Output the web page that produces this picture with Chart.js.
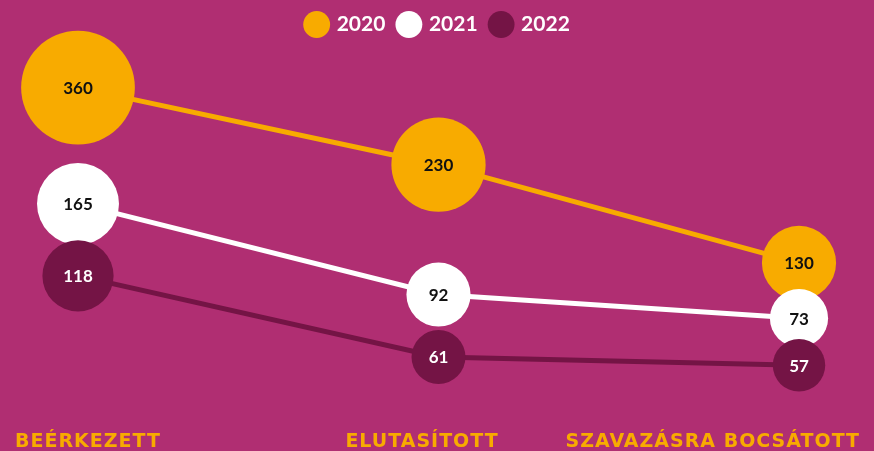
<!DOCTYPE html>
<html>
<head>
<meta charset="utf-8">
<script src="https://cdn.jsdelivr.net/npm/chart.js@4.4.1/dist/chart.umd.min.js"></script>
<style>
  html, body { margin: 0; padding: 0; background: #b02e72; }
  #wrap { width: 874px; height: 451px; position: relative; }
</style>
</head>
<body>
<div id="wrap"><canvas id="grafico"></canvas></div>
<script>
// --- adatok ---
const kategoriak = ['BEÉRKEZETT', 'ELUTASÍTOTT', 'SZAVAZÁSRA BOCSÁTOTT'];
const evek = ['2020', '2021', '2022'];
const ertekek2020 = [360, 230, 130];
const ertekek2021 = [165, 92, 73];
const ertekek2022 = [118, 61, 57];

const NARANCS = '#f8ab00';
const FEHER = '#ffffff';
const LILA = '#741445';

// buborék mérete az értékből
function buborekSugar(ctx) {
    const v = ctx.raw;
    return 4.8 * Math.pow(v, 0.42);
}

// számok a buborékok közepén
const buborekFelirat = {
    id: 'buborekFelirat',
    afterDatasetsDraw(chart) {
        const ctx = chart.ctx;
        ctx.save();
        ctx.font = 'bold 17px Lato';
        ctx.textAlign = 'center';
        ctx.textBaseline = 'middle';
        chart.data.datasets.forEach((ds, i) => {
            const meta = chart.getDatasetMeta(i);
            ctx.fillStyle = ds.szamSzin;
            meta.data.forEach((pont, j) => {
                ctx.fillText(ds.data[j], pont.x, pont.y + 1);
            });
        });
        ctx.restore();
    }
};

// kategória feliratok alul
const tengelyFelirat = {
    id: 'tengelyFelirat',
    afterDraw(chart) {
        const ctx = chart.ctx;
        const igazitas = ['left', 'center', 'right'];
        const helyek = [15, 422, chart.width - 14];
        ctx.save();
        ctx.font = 'bold 19px "DejaVu Sans"';
        ctx.letterSpacing = '1px';
        ctx.fillStyle = NARANCS;
        ctx.textBaseline = 'alphabetic';
        kategoriak.forEach((k, i) => {
            ctx.textAlign = igazitas[i];
            ctx.fillText(k, helyek[i], 447);
        });
        ctx.restore();
    }
};

function sorozat(cimke, adat, szin, szamSzin, tengely, sorrend) {
    return {
        label: cimke,
        data: adat,
        yAxisID: tengely,
        order: sorrend,
        borderColor: szin,
        borderWidth: 5,
        backgroundColor: szin,
        pointBackgroundColor: szin,
        pointBorderWidth: 0,
        pointRadius: buborekSugar,
        pointHoverRadius: buborekSugar,
        pointStyle: 'circle',
        tension: 0,
        clip: false,
        szamSzin: szamSzin
    };
}

new Chart(document.getElementById('grafico').getContext('2d'), {
    type: 'line',
    data: {
        labels: kategoriak,
        datasets: [
            sorozat(evek[0], ertekek2020, NARANCS, '#111111', 'y2020', 3),
            sorozat(evek[1], ertekek2021, FEHER, '#111111', 'y2021', 2),
            sorozat(evek[2], ertekek2022, LILA, '#ffffff', 'y2022', 1)
        ]
    },
    options: {
        responsive: true,
        maintainAspectRatio: false,
        animation: false,
        layout: { autoPadding: false, padding: { left: 78, right: 75, top: 0, bottom: 51 } },
        plugins: {
            tooltip: { enabled: false },
            legend: {
                position: 'top',
                reverse: true,
                labels: {
                    usePointStyle: true,
                    boxWidth: 19,
                    boxHeight: 19,
                    padding: 14,
                    color: '#ffffff',
                    font: { family: 'Lato', weight: 'bold', size: 21 }
                }
            }
        },
        scales: {
            x: { type: 'category', offset: false, display: false },
            y2020: { type: 'logarithmic', min: 58.6, max: 461.1, display: false },
            y2021: { type: 'linear', min: 7.1, max: 292.9, display: false },
            y2022: { type: 'logarithmic', min: 43.0, max: 770.9, display: false }
        }
    },
    plugins: [buborekFelirat, tengelyFelirat]
});
</script>
</body>
</html>
